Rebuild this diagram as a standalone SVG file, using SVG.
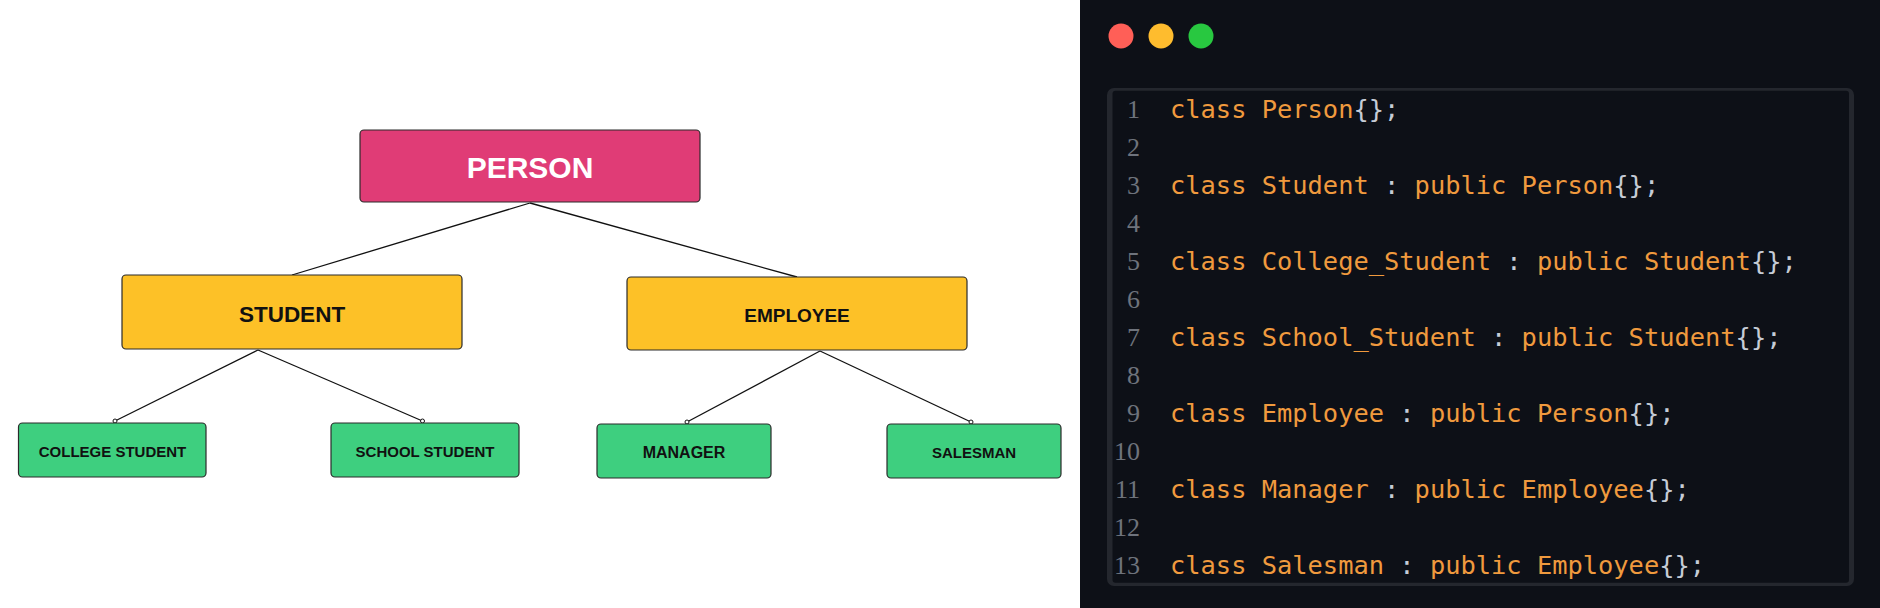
<svg xmlns="http://www.w3.org/2000/svg" width="1880" height="608" viewBox="0 0 1880 608">
<style>
.box{stroke:#2b2b2b;stroke-width:1.2}
.pink{fill:#E03C76}
.yellow{fill:#FDC127}
.green{fill:#3ECF7F}
.lbl{font-family:"Liberation Sans",Arial,sans-serif;font-weight:bold;text-anchor:middle;fill:#111}
.conn{stroke:#111;stroke-width:1.3;fill:none}
.dot{fill:#fff;stroke:#111;stroke-width:1}
.ln{font-family:"Liberation Serif","Times New Roman",serif;font-size:26px;fill:#6e737c;text-anchor:end}
.code{font-family:"DejaVu Sans Mono","Liberation Mono",monospace;font-size:25.4px;fill:#F09A3E}
.p{fill:#c6ccd6}
</style>
<rect x="0" y="0" width="1080" height="608" fill="#ffffff"/>
<rect x="1080" y="0" width="800" height="608" fill="#0d1017"/>

<g id="connectors">
<line class="conn" x1="530" y1="203" x2="292" y2="275"/>
<line class="conn" x1="530" y1="203" x2="797" y2="277"/>
<line class="conn" x1="258" y1="350" x2="115" y2="421"/>
<line class="conn" x1="258" y1="350" x2="422.5" y2="421"/>
<line class="conn" x1="820" y1="351" x2="687" y2="422"/>
<line class="conn" x1="820" y1="351" x2="971" y2="422"/>
<circle class="dot" cx="115" cy="421" r="2"/>
<circle class="dot" cx="422.5" cy="421" r="2"/>
<circle class="dot" cx="687" cy="422" r="2"/>
<circle class="dot" cx="971" cy="422" r="2"/>
</g>

<g id="person">
<rect class="box pink" x="360" y="130" width="340" height="72" rx="4"/>
<text class="lbl" x="530" y="178" font-size="30" style="fill:#fff">PERSON</text>
</g>
<g id="student">
<rect class="box yellow" x="122" y="275" width="340" height="74" rx="4"/>
<text class="lbl" x="292" y="321.5" font-size="22.5">STUDENT</text>
</g>
<g id="employee">
<rect class="box yellow" x="627" y="277" width="340" height="73" rx="4"/>
<text class="lbl" x="797" y="321.5" font-size="19">EMPLOYEE</text>
</g>
<g id="college_student">
<rect class="box green" x="18.5" y="423" width="187.5" height="54" rx="4"/>
<text class="lbl" x="112.5" y="456.5" font-size="15">COLLEGE STUDENT</text>
</g>
<g id="school_student">
<rect class="box green" x="331" y="423" width="188" height="54" rx="4"/>
<text class="lbl" x="425" y="456.5" font-size="15">SCHOOL STUDENT</text>
</g>
<g id="manager">
<rect class="box green" x="597" y="424" width="174" height="54" rx="4"/>
<text class="lbl" x="684" y="458" font-size="16">MANAGER</text>
</g>
<g id="salesman">
<rect class="box green" x="887" y="424" width="174" height="54" rx="4"/>
<text class="lbl" x="974" y="458" font-size="15">SALESMAN</text>
</g>

<g id="window">
<circle cx="1121" cy="36" r="12.5" fill="#FF5F57"/>
<circle cx="1161" cy="36" r="12.5" fill="#FEBC2E"/>
<circle cx="1201" cy="36" r="12.5" fill="#28C840"/>
<rect x="1107" y="88" width="747" height="498" rx="7" fill="#24272e"/>
<rect x="1112.5" y="90.7" width="736.5" height="492" rx="3" fill="#0d1017"/>
</g>

<g id="code">
<text class="ln" x="1140" y="118">1</text>
<text class="ln" x="1140" y="156">2</text>
<text class="ln" x="1140" y="194">3</text>
<text class="ln" x="1140" y="232">4</text>
<text class="ln" x="1140" y="270">5</text>
<text class="ln" x="1140" y="308">6</text>
<text class="ln" x="1140" y="346">7</text>
<text class="ln" x="1140" y="384">8</text>
<text class="ln" x="1140" y="422">9</text>
<text class="ln" x="1140" y="460">10</text>
<text class="ln" x="1140" y="498">11</text>
<text class="ln" x="1140" y="536">12</text>
<text class="ln" x="1140" y="574">13</text>

<text class="code" x="1170" y="117.5" xml:space="preserve">class Person<tspan class="p">{};</tspan></text>
<text class="code" x="1170" y="193.5" xml:space="preserve">class Student <tspan class="p">:</tspan> public Person<tspan class="p">{};</tspan></text>
<text class="code" x="1170" y="269.5" xml:space="preserve">class College_Student <tspan class="p">:</tspan> public Student<tspan class="p">{};</tspan></text>
<text class="code" x="1170" y="345.5" xml:space="preserve">class School_Student <tspan class="p">:</tspan> public Student<tspan class="p">{};</tspan></text>
<text class="code" x="1170" y="421.5" xml:space="preserve">class Employee <tspan class="p">:</tspan> public Person<tspan class="p">{};</tspan></text>
<text class="code" x="1170" y="497.5" xml:space="preserve">class Manager <tspan class="p">:</tspan> public Employee<tspan class="p">{};</tspan></text>
<text class="code" x="1170" y="573.5" xml:space="preserve">class Salesman <tspan class="p">:</tspan> public Employee<tspan class="p">{};</tspan></text>
</g>
</svg>
